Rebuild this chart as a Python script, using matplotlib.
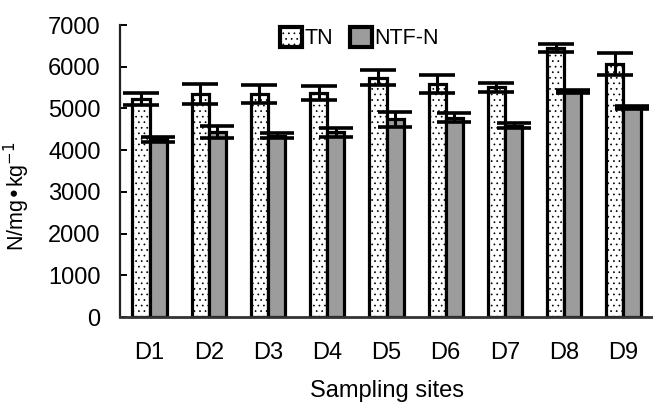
import numpy as np
import matplotlib
matplotlib.use("Agg")
import matplotlib.pyplot as plt
from matplotlib.patches import Patch

plt.rcParams["font.family"] = ["Liberation Sans", "DejaVu Sans"]
plt.rcParams["hatch.linewidth"] = 0.5

# data
sites = ["D1", "D2", "D3", "D4", "D5", "D6", "D7", "D8", "D9"]
tn = [5230, 5340, 5350, 5370, 5735, 5580, 5510, 6450, 6060]
tn_err = [150, 240, 210, 170, 180, 215, 110, 90, 260]
ntf = [4260, 4430, 4340, 4430, 4740, 4780, 4590, 5400, 5020]
ntf_err = [60, 150, 60, 110, 180, 100, 70, 30, 40]

W, H = 653, 403
fig = plt.figure(figsize=(W / 100, H / 100), dpi=100)
ax = fig.add_axes([120 / W, 1 - 317 / H, 1 - 120 / W, (317 - 25) / H])

x = np.arange(len(sites))
bw = 0.29
ax.bar(x - bw / 2, tn, bw, facecolor="white", edgecolor="black",
       linewidth=2.3, hatch="...", zorder=2)
ax.bar(x + bw / 2, ntf, bw, facecolor="#9c9c9c", edgecolor="black",
       linewidth=2.3, zorder=2)
ax.errorbar(x - bw / 2, tn, yerr=tn_err, fmt="none", ecolor="black",
            elinewidth=2.2, capsize=13, capthick=2.6, zorder=3)
ax.errorbar(x + bw / 2, ntf, yerr=ntf_err, fmt="none", ecolor="black",
            elinewidth=2.2, capsize=12, capthick=2.6, zorder=3)

ax.set_xlim(-0.5, len(sites) - 0.5)
ax.set_ylim(0, 7000)
ax.set_yticks(np.arange(0, 7001, 1000))
ax.set_xticks(x)
ax.set_xticklabels(sites)
ax.tick_params(axis="y", direction="in", length=5, width=1.4, pad=14, labelsize=17)
ax.tick_params(axis="x", length=0, pad=18, labelsize=17)

for s in ["top", "right"]:
    ax.spines[s].set_visible(False)
ax.spines["left"].set_linewidth(1.6)
ax.spines["left"].set_color("#222222")
ax.spines["bottom"].set_linewidth(2.0)
ax.spines["bottom"].set_color("#333333")

ax.set_ylabel("N/mg\u2022kg$^{-1}$", fontsize=15.5)
ax.yaxis.set_label_coords(-0.165, 0.415)
ax.set_xlabel("Sampling sites", fontsize=17)
ax.xaxis.set_label_coords(0.5, -0.216)

handles = [
    Patch(facecolor="white", edgecolor="black", linewidth=3.0, hatch="..."),
    Patch(facecolor="#9c9c9c", edgecolor="black", linewidth=3.0),
]
ax.legend(handles, ["TN", "NTF-N"], loc="center", bbox_to_anchor=(0.449, 0.955),
          ncol=2, frameon=False, fontsize=15.5, handlelength=1.0, handleheight=1.05,
          handletextpad=0.12, columnspacing=0.8, borderaxespad=0)

fig.savefig("out.png", dpi=100)
